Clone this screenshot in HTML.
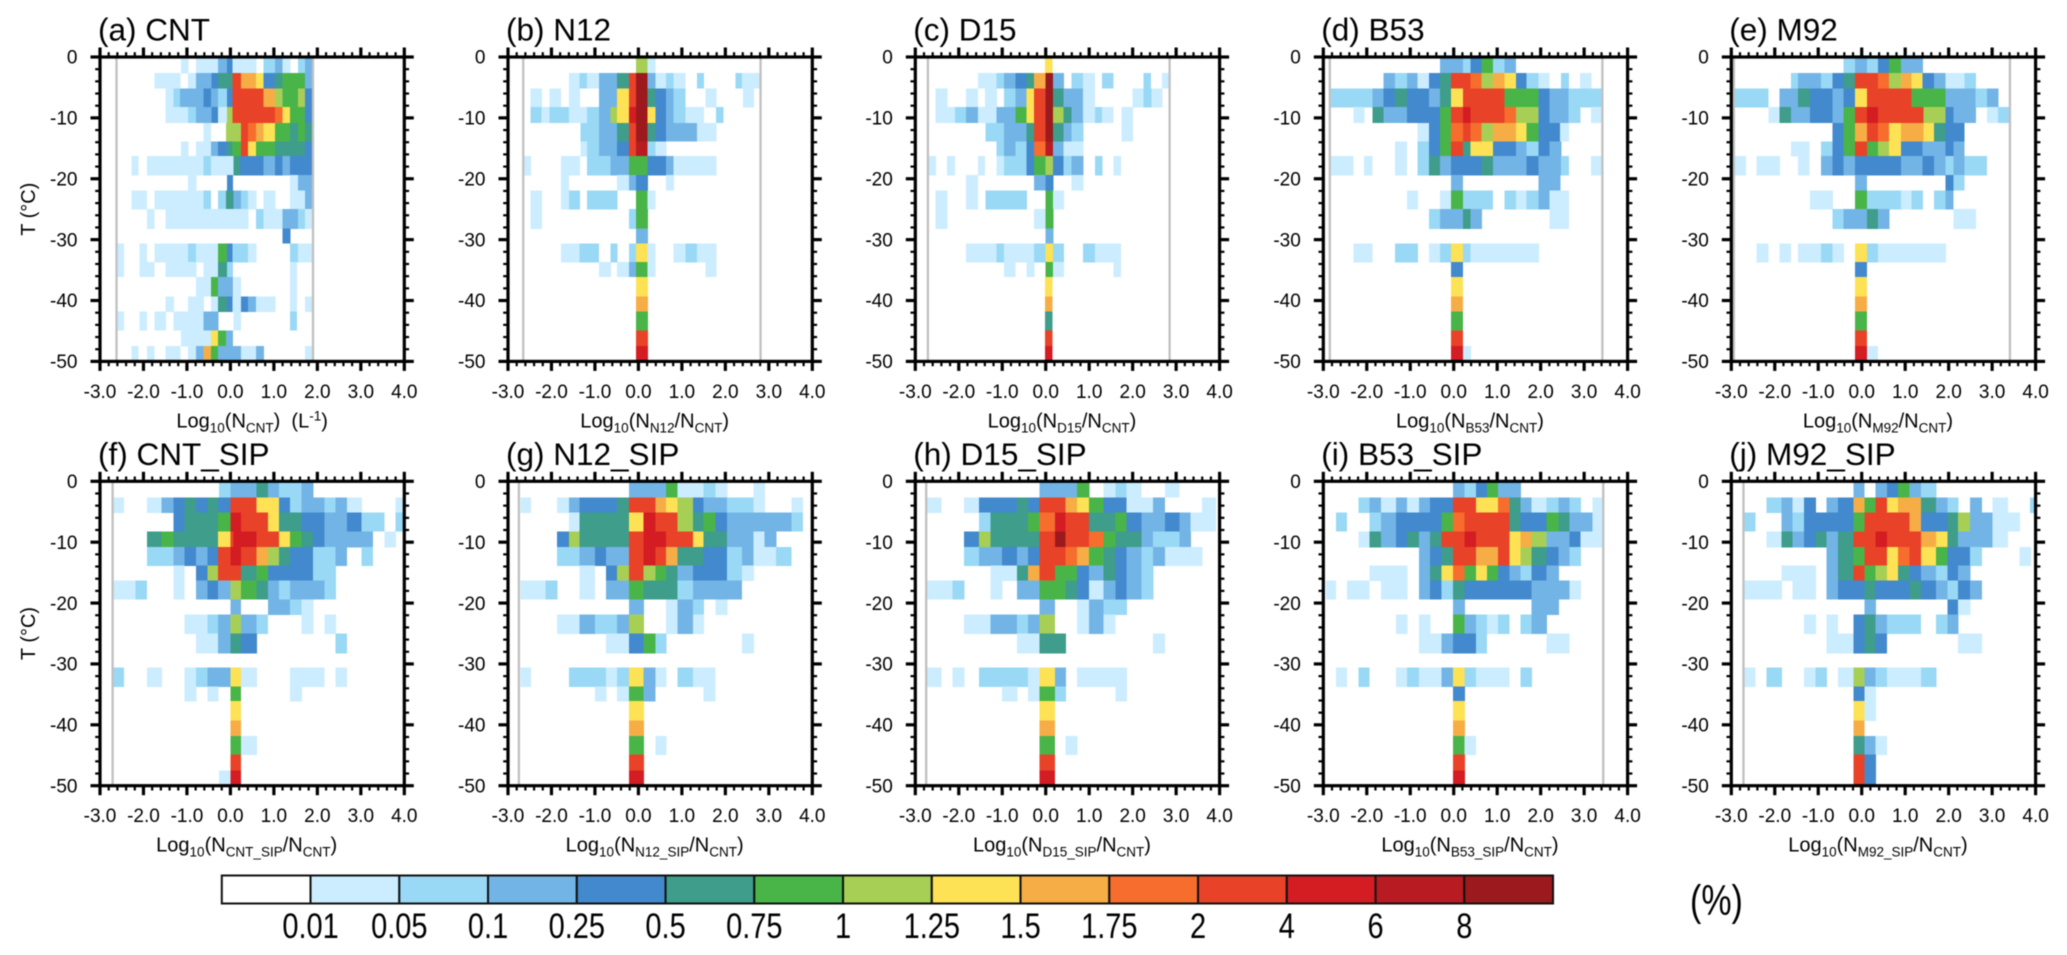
<!DOCTYPE html>
<html lang="en">
<head>
<meta charset="utf-8">
<title>Ice number concentration frequency by temperature</title>
<style>
html,body{margin:0;padding:0;background:#fff;}
body{width:2067px;height:955px;overflow:hidden;}
svg{display:block;font-family:"Liberation Sans",Arial,sans-serif;fill:#000;filter:blur(.45px);}
</style>
</head>
<body>
<svg id="chart" width="2067" height="955" viewBox="0 0 2067 955" xmlns="http://www.w3.org/2000/svg">
<rect width="2067" height="955" fill="#fff"/>
</svg>
<script>
// Colour bins
const levelBounds = [0.01,0.05,0.1,0.25,0.5,0.75,1,1.25,1.5,1.75,2,4,6,8];
const levelLabels = ['0.01','0.05','0.1','0.25','0.5','0.75','1','1.25','1.5','1.75','2','4','6','8'];
const levelColors = ['#ffffff','#ccedff','#99d9f6','#73b4e6','#4289ce','#3f9d8b','#49b548','#a7cf55','#fde255','#f6ad45','#f76d2d','#e84328','#d41d23','#b81b22','#9c1a1d'];

// Axes
const xTicks = [-3,-2,-1,0,1,2,3,4];
const xTickLabels = ['-3.0','-2.0','-1.0','0.0','1.0','2.0','3.0','4.0'];
const yTicks = [0,-10,-20,-30,-40,-50];
const yTickLabels = ['0','-10','-20','-30','-40','-50'];
// Temperature bin edges (degrees C below zero)
const tempEdges = [0,2.63,5.15,8.22,10.8,13.87,16.3,19.4,21.9,25,28.2,30.6,33.7,36.1,39.3,41.8,44.9,47.5,50];

const panelTitles = ['(a) CNT','(b) N12','(c) D15','(d) B53','(e) M92','(f) CNT_SIP','(g) N12_SIP','(h) D15_SIP','(i) B53_SIP','(j) M92_SIP'];
const panelSubs = ['CNT','N12','D15','B53','M92','CNT_SIP','N12_SIP','D15_SIP','B53_SIP','M92_SIP'];
// Min / max of each distribution (log10 units), null = not visible
const rangeMin = [-2.62,-2.65,-2.71,-2.85,-2.94,-2.71,-2.75,-2.75,null,-2.72];
const rangeMax = [1.9,2.81,2.85,3.42,3.41,null,null,null,3.44,null];

// Each row: [edge, percent, edge, percent, ..., edge] in log10 units, top row = warmest bin
const panelA = [
[-1.14,.03,-.97,0,-.79,.03,-.28,.15,-.08,.3,.05,.03,.59,0,.76,.07,1.03,.15,1.2,.03,1.37,0,1.55,.07,1.72,.15,1.9],
[-1.75,.03,-1.16,0,-.97,.03,-.79,.15,-.43,.3,-.28,.6,.05,3,.24,1.6,.59,1.4,.76,.3,1.03,.6,1.2,.9,1.72,.15,1.9],
[-1.49,.03,-1.31,.07,-1.16,.15,-.62,.3,-.45,.15,-.28,.07,-.08,.3,.05,3,.76,1.6,1.03,1.1,1.2,.9,1.55,1.1,1.72,.3,1.9],
[-1.49,.03,-.97,.07,-.79,.15,-.43,.3,-.28,.03,-.08,1.1,.05,3,1.03,1.9,1.2,1.4,1.37,.9,1.72,.3,1.9],
[-.62,.03,-.45,0,-.1,1.1,.24,3,.41,1.9,.59,1.6,.76,1.4,1.03,.9,1.37,.6,1.55,.9,1.72,.6,1.9],
[-1.14,.03,-.97,0,-.79,.03,-.45,.15,-.28,.3,-.08,.6,.05,.9,.24,3,.41,1.4,.59,.9,1.03,.6,1.72,.3,1.9],
[-2.27,.03,-2.12,0,-1.92,.03,-.62,.07,-.45,.03,.07,.6,.22,.3,.76,.15,1.03,.3,1.2,.15,1.37,.3,1.9],
[-.97,.03,-.79,0,-.08,.3,.05,0,1.37,.03,1.55,.15,1.9],
[-2.27,.03,-1.92,0,-1.75,.03,-.62,.07,-.45,0,-.28,.07,-.1,.6,.07,.15,.24,.07,.41,.03,.59,0,.76,.03,1.03,0,1.37,.03,1.72,.15,1.9],
[-1.92,.03,-1.75,0,-1.49,.03,.41,0,.59,.07,.76,.03,1.2,.15,1.55,.07,1.72,.03,1.9],
[1.2,.3,1.37],
[-2.62,.03,-2.46,0,-2.09,.03,-1.92,0,-1.75,.03,-.97,.07,-.79,.03,-.28,.9,-.08,.3,.05,.07,.41,.03,.59,0,1.37,.07,1.55,.03,1.9],
[-2.62,.03,-2.46,0,-2.09,.03,-1.75,0,-1.49,.03,-.79,0,-.62,.03,-.28,.6,-.08,.07,.05,0,1.37,.03,1.52],
[-.79,.03,-.45,.9,-.28,.15,.05,0,.07,.03,.24,0,1.37,.03,1.52],
[-1.49,.03,-1.31,0,-.97,.03,-.62,0,-.45,.03,-.28,.6,-.08,.3,.05,.03,.24,.3,.41,.15,.59,.03,1.03,0,1.37,.03,1.52,0,1.72,.03,1.9],
[-2.62,.03,-2.46,0,-2.09,.03,-1.92,0,-1.75,.03,-1.49,0,-1.31,.03,-.62,.15,-.28,0,.07,.03,.24,0,1.37,.07,1.52],
[-1.14,.03,-.45,1.4,-.28,.9,-.1,.15,.05],
[-2.27,.03,-2.12,0,-1.92,.03,-1.75,0,-1.49,.03,-1.16,0,-.97,.03,-.79,.15,-.62,1.6,-.45,.9,-.28,.15,.24,.03,.59,.15,.76,0,1.72,.03,1.9]
];
const panelB = [
[-.05,1.1,.21,.03,.39],
[-1.6,.03,-1.35,.07,-1.18,.03,-.91,.15,-.49,.6,-.22,3,-.05,9,.21,.15,.39,.03,.64,.07,.81,.03,1.08,0,1.35,.07,1.5,0,2.23,.07,2.38,.03,2.81],
[-2.48,.03,-2.23,0,-2.04,.03,-1.79,0,-1.6,.03,-1.35,0,-.91,.15,-.49,1.4,-.22,3,-.05,9,.21,.6,.39,.3,.64,.15,.81,.07,1.08,0,1.54,.03,1.79,0,2.41,.03,2.65],
[-2.48,.07,-2.23,.03,-2.04,.07,-1.6,.03,-1.18,.07,-.91,.15,-.64,1.1,-.49,1.4,-.22,5,-.05,9,.21,1.4,.39,.3,.64,.15,.81,.07,1.08,.03,1.5,0,1.79,.07,1.95],
[-1.33,.07,-.91,.15,-.49,.6,-.22,3,-.05,9,.21,.6,.39,.3,.64,.15,1.35,.03,1.79],
[-1.33,.03,-1.18,.07,-.91,.15,-.49,.3,-.22,3,-.05,7,.21,.07,.39,.03,.64],
[-2.64,.03,-2.48,0,-1.78,.03,-1.35,0,-1.18,.07,-.64,.15,-.22,.9,.21,.3,.64,.15,.81,.03,1.79],
[-1.78,.03,-1.6,0,-.49,.03,-.22,.15,-.05,.3,.21,0,.64,.03,.81],
[-2.48,.03,-2.23,0,-1.78,.03,-1.6,.07,-1.35,0,-1.18,.07,-.49,0,-.05,.9,.21,.03,.39],
[-2.48,.03,-2.23,0,-.22,.07,-.05,.9,.21],
[-.05,.15,.21],
[-1.78,.03,-1.35,.07,-.91,0,-.64,.07,-.49,0,-.22,.07,-.05,1.4,.21,.03,.39,0,.81,.03,1.08,.07,1.35,.03,1.79],
[-.91,.03,-.64,0,-.49,.03,-.22,.15,-.05,.9,.21,.03,.39,0,1.54,.03,1.79],
[-.05,1.4,.21],
[-.05,1.6,.21],
[-.05,.9,.21],
[-.05,3,.21],
[-.05,5,.21]
];
const panelC = [
[-.02,1.4,.15],
[-1.56,.03,-1.13,.07,-.96,.15,-.7,.3,-.44,.6,-.27,1.6,0,9,.17,.15,.41,0,.59,.07,.86,.03,1.13,0,1.3,.07,1.55,0,2.25,.07,2.42,0,2.68,.03,2.85],
[-2.53,.03,-2.27,0,-1.83,.03,-1.56,0,-1.4,.03,-1.13,0,-.96,.07,-.7,.15,-.44,1.4,-.27,3,0,9,.17,.6,.41,.15,.86,.03,1.13,0,2,.03,2.25,.07,2.43,.03,2.68],
[-2.53,.03,-2.09,.07,-1.83,.15,-1.56,.03,-1.13,.15,-.7,.9,-.44,1.4,-.27,3,0,9,.17,1.1,.41,.6,.59,.15,.86,.03,1.13,.07,1.3,.03,1.55,0,1.74,.03,2],
[-1.39,.07,-.96,.15,-.44,.6,-.27,3,0,9,.17,.6,.41,.15,.59,.07,.86,0,1.74,.03,2],
[-1.13,.07,-.96,.15,-.7,.07,-.44,.3,-.27,1.9,0,7,.17,.15,.41,.03,.86],
[-2.69,.03,-2.53,0,-2.27,.03,-2.09,0,-1.56,.03,-1.4,0,-1.13,.03,-.96,.07,-.44,.3,-.27,.9,0,1.1,.17,.3,.41,.07,.59,.15,.86,0,1.13,.07,1.3,0,1.56,.03,1.73],
[-1.83,.03,-1.56,0,-.27,.15,0,.3,.17,0,.59,.03,.86],
[-2.53,.03,-2.27,0,-1.83,.03,-1.56,0,-1.39,.07,-.44,0,0,.9,.17,.03,.41],
[-2.53,.03,-2.27,0,-.27,.03,0,.9,.17],
[0,.15,.17],
[-1.83,.03,-1.13,.07,-.96,.03,-.27,.07,0,1.4,.17,.07,.41,0,.86,.07,1.13,.03,1.73],
[-.96,.03,-.7,0,-.44,.03,-.27,0,0,.9,.17,.03,.41,0,1.56,.03,1.73],
[-.02,1.4,.15],
[-.02,1.6,.15],
[-.02,.6,.15],
[-.02,3,.15],
[-.02,5,.15]
];
const panelD = [
[-.31,.15,.21,.07,.39,.3,.64,.9,.9,.07,1.17,.15,1.43],
[-1.62,.15,-1.35,.07,-1.08,.15,-.83,.03,-.57,.3,-.31,.6,-.06,3,.39,1.9,.64,1.1,.9,1.6,1.17,1.4,1.43,.3,1.68,.07,1.95,.03,2.2,0,2.47,.07,2.64,0,2.91,.03,3.16],
[-2.82,.07,-1.87,.15,-1.62,.3,-1.35,.6,-1.08,.3,-.57,.15,-.31,.6,-.06,1.4,.21,3,1.17,.9,1.95,.3,2.2,.15,2.64,.07,3.42],
[-2.31,.03,-2.06,0,-1.87,.6,-1.62,.15,-1.08,.3,-.31,.9,-.06,3,.21,5,.39,3,1.17,1.9,1.43,1.1,1.95,.3,2.2,.15,2.64,.07,2.91,0,3.16,.03,3.42],
[-.83,.03,-.57,.3,-.31,.9,-.06,1.9,.21,3,.39,1.9,.64,1.1,.9,1.6,1.43,1.4,1.68,.9,1.95,.3,2.45,.03,2.64],
[-1.35,.03,-1.08,0,-.83,.07,-.57,.3,-.31,.9,-.06,3,.21,.6,.39,1.4,.9,.3,1.43,.15,1.68,.07,1.95,.3,2.2,.15,2.47],
[-2.82,.03,-2.31,0,-2.06,.03,-1.87,0,-1.35,.03,-1.08,0,-.83,.07,-.57,.6,-.31,.15,-.06,.3,.64,.6,.9,.15,1.68,.3,1.95,.15,2.47,.07,2.64,0,3.16,.03,3.42],
[-.06,.15,.21,0,1.95,.15,2.45],
[-1.08,.03,-.83,0,-.31,.03,-.06,.9,.21,.07,.9,0,1.17,.07,1.43,.03,1.68,.07,1.95,.15,2.2,.03,2.64],
[-.57,.07,-.31,.15,.21,.6,.39,.15,.64,0,2.2,.03,2.64],
[],
[-2.31,.03,-1.87,0,-1.35,.07,-.83,0,-.57,.03,-.31,.07,-.06,1.4,.21,.07,.39,.03,1.95],
[-.06,.3,.21],
[-.06,1.4,.21],
[-.06,1.6,.21],
[-.06,.9,.21],
[-.06,3,.21],
[-.06,5,.21,.03,.39]
];
const panelE = [
[-.42,.07,-.15,.15,.12,.07,.37,.3,.63,.9,.9,.15,1.4],
[-1.63,.07,-1.46,.15,-.94,.07,-.67,.3,-.42,.6,-.15,3,.37,1.9,.63,1.1,.9,1.6,1.15,1.4,1.4,.3,1.66,.15,1.93,.03,2.36,.07,2.62],
[-2.91,.07,-2.15,0,-1.89,.15,-1.46,.6,-1.19,.3,-.67,.15,-.42,.3,-.15,1.4,.12,3,1.15,.9,1.93,.15,2.62,.07,2.88,.15,3.14],
[-2.15,.03,-1.89,.6,-1.63,.15,-1.19,.3,-.67,.15,-.42,.9,-.15,3,.12,5,.37,3,1.42,1.1,1.93,.3,2.11,.15,2.62,0,2.88,.03,3.14,.07,3.4],
[-.67,.3,-.42,.9,-.15,1.6,.12,3,.37,1.9,.63,1.4,.9,1.6,1.42,1.4,1.66,.6,1.93,.3,2.36],
[-1.63,.03,-1.21,0,-.94,.07,-.67,.3,-.42,.9,-.15,3,.12,.9,.37,1.1,.63,1.4,.9,.3,1.4,.15,1.93,.3,2.11,.15,2.36],
[-2.94,.03,-2.67,0,-2.42,.03,-1.89,0,-1.46,.03,-1.21,0,-.94,.15,-.67,.3,-.42,.15,-.15,.3,.9,.15,1.4,.3,1.66,.15,1.93,.07,2.11,.15,2.36,.07,2.88],
[-.15,.15,.12,0,1.93,.3,2.11,.07,2.36],
[-1.19,.03,-.67,0,-.15,.9,.12,.07,.9,.03,1.15,.07,1.4,0,1.66,.07,1.93,.15,2.11],
[-.67,.07,-.42,.15,.12,.6,.37,.15,.63,0,2.11,.03,2.62],
[],
[-2.42,.03,-2.15,0,-1.89,.03,-1.63,0,-1.46,.03,-.94,.07,-.67,.03,-.42,0,-.15,1.4,.12,.07,.37,.03,1.93],
[-.15,.3,.12],
[-.15,1.4,.12],
[-.15,1.6,.12],
[-.15,.9,.12],
[-.15,3,.12],
[-.15,5,.12,.03,.37]
];
const panelF = [
[-.26,.07,0,.15,.6,.6,.86,.15,1.12,.07,1.64,.15,1.9],
[-2.69,.03,-2.45,0,-1.92,.03,-1.58,.15,-1.31,.3,-1.06,.6,-.79,.3,-.53,.6,-.28,.3,0,3,.6,1.4,1.12,.3,1.37,.07,1.64,.15,2.16,.07,2.42,.15,2.68,.03,3.02,0,3.8,.03,3.97],
[-1.31,.3,-1.06,.6,-.28,.9,0,5,.24,3,.86,1.4,1.12,.6,1.64,.3,2.16,.15,2.68,.3,3.02,.07,3.54,0,3.8,.07,3.97],
[-1.92,.6,-1.58,.9,-1.31,.6,-.28,1.4,0,3,.07,5,.6,3,1.12,1.4,1.37,.9,1.64,.6,1.9,.3,2.16,.15,3.27,0,3.54,.03,3.8],
[-1.92,.07,-1.31,.15,-1.06,.3,-.79,.15,-.53,.3,-.28,3,0,5,.24,3,.6,1.6,.86,1.1,1.12,.6,1.37,.3,1.9,.07,2.42,.15,2.68,0,3.02,.07,3.27],
[-1.31,.03,-1.06,0,-.79,.3,-.53,1.1,-.28,3,.24,.6,.6,.9,.86,.3,1.9,.07,2.42],
[-2.69,.03,-2.18,.07,-1.92,0,-1.31,.03,-1.06,0,-.79,.15,-.53,.3,-.28,.15,0,1.1,.24,.9,.6,.6,.86,.15,1.12,.07,1.37,.15,2.16,.07,2.42],
[0,.15,.24,0,.86,.15,1.37,.07,1.64,.03,1.9],
[-1.06,.03,-.53,.07,-.28,.15,0,1.1,.24,.15,.6,.07,.86,0,1.64,.03,1.9,0,2.16,.03,2.42],
[-.79,.03,-.28,.15,0,.6,.24,.3,.6,0,2.42,.07,2.68],
[],
[-2.69,.07,-2.45,0,-1.92,.03,-1.58,0,-1.06,.03,-.79,.07,-.53,.15,0,1.4,.24,.03,.6,0,1.37,.03,2.16,0,2.42,.03,2.68],
[-1.06,.03,-.79,0,-.53,.03,-.28,0,0,.9,.24,0,1.37,.03,1.64],
[0,1.4,.24],
[0,1.6,.24],
[0,.9,.24,.03,.6],
[0,3,.24],
[-.26,.03,0,5,.24]
];
const panelG = [
[-.22,.15,.64,.9,.9,.03,1.5,.07,1.77,.03,2.04,0,2.65,.03,2.9],
[-2.71,.03,-2.48,0,-1.87,.03,-1.6,.15,-1.35,.3,-.49,.6,-.22,3,.39,1.6,.64,1.4,.9,1.1,1.25,.3,1.5,.15,2.04,.07,2.65,.03,2.9,0,3.52,.03,3.78],
[-1.6,.03,-1.35,.6,-.22,1.4,.12,5,.39,3,.9,1.1,1.25,.6,1.5,.9,1.77,.3,2.04,.15,3.52,.07,3.78],
[-1.87,.3,-1.6,1.1,-1.35,.6,-.22,3,.12,5,.64,3,1.25,1.4,1.5,.6,2.04,.15,2.65,.03,2.9,.15,3.17],
[-1.87,.07,-1.35,.15,-1,.3,-.74,.15,-.22,3,.12,5,.39,3,.64,1.6,.9,.6,1.5,.3,2.04,.07,2.38,.15,2.65,.03,3.17,.07,3.52],
[-1.35,.03,-1,0,-.74,.3,-.49,1.1,-.22,3,.12,1.1,.39,.9,.64,.6,.9,.15,1.25,.3,2.04,.07,2.38,.03,2.65],
[-2.71,.03,-2.14,.07,-1.87,0,-1.35,.03,-1,0,-.74,.15,-.22,.9,.12,.6,.9,.07,1.25,.15,2.38],
[-.22,.15,.12,0,.64,.03,.9,.15,1.25,.07,1.5,0,1.77,.03,2.04],
[-1.87,.03,-1.35,.15,-1,.07,-.49,.15,-.22,1.1,.12,0,.64,.03,.9,.15,1.25,.03,1.5],
[-.74,.03,-.22,.3,.12,.9,.39,.07,.64,0,2.38,.03,2.65],
[],
[-2.71,.03,-2.48,0,-1.6,.07,-.74,.03,-.49,.07,-.22,1.4,.12,.15,.39,.03,.64,0,.9,.07,1.25,.03,1.77],
[-1,.03,-.74,0,-.49,.03,-.22,.9,.12,.15,.39,0,1.5,.03,1.77],
[-.22,1.4,.12],
[-.22,1.6,.12],
[-.22,.9,.12,0,.39,.03,.64],
[-.22,3,.12],
[-.22,5,.12]
];
const panelH = [
[-.14,.15,.72,.9,1,0,1.33,.03,1.6,.07,1.86,.03,2.2,0,2.74,.03,3.07],
[-2.75,.03,-2.4,0,-1.88,.03,-1.53,.3,-.66,.6,-.41,.3,-.14,3,.46,1.6,.72,1.4,1,.9,1.33,.3,1.86,.03,2.47,.15,2.74,0,3.6,.03,3.91],
[-1.53,.07,-1.27,.6,-.41,.9,-.14,1.9,.21,5,.46,3,1,.6,1.6,.9,1.86,.3,2.2,.15,2.74,.3,3.08,.15,3.33,.03,3.91],
[-1.88,.3,-1.53,1.1,-1.27,.6,-.14,3,.21,9,.46,3,1,1.9,1.33,.9,1.6,.6,2.2,.15,2.47,.07,3.08,.15,3.33],
[-1.88,.07,-1.53,.15,-1,.3,-.66,.15,-.41,.3,-.14,3,.46,1.9,.72,1.6,1,.9,1.33,.6,1.6,.3,1.86,.15,2.2,.07,2.47,.15,2.74,.03,3.6],
[-1.27,.03,-.66,.6,-.41,1.6,-.14,3,.21,.9,.72,.3,1,.15,1.33,.6,1.6,.3,1.86,.15,2.2,.07,2.47],
[-2.75,.03,-2.15,.07,-1.88,0,-1.27,.03,-1,0,-.66,.15,-.14,.9,.46,.6,.72,.3,1,.03,1.33,.15,1.6,.3,1.86,.15,2.2,.07,2.47],
[-.14,.15,.21,0,.72,.03,1,.15,1.33,.07,1.86],
[-1.88,.03,-1.27,.15,-.66,.07,-.41,.15,-.14,1.1,.21,0,.72,.03,1,.15,1.33,.03,1.6],
[-.66,.03,-.14,.6,.46,0,2.47,.03,2.74],
[],
[-2.75,.03,-2.4,0,-2.15,.03,-1.88,0,-1.53,.07,-.41,.03,-.14,1.4,.21,.15,.46,0,.72,.03,1.86],
[-1,.03,-.66,0,-.41,.03,-.14,.9,.21,.07,.46,0,1.6,.03,1.86],
[-.14,1.4,.21],
[-.14,1.6,.21],
[-.14,.9,.21,0,.46,.03,.72],
[-.14,3,.21],
[-.14,5,.21]
];
const panelI = [
[-.02,.15,.25,.07,.51,.3,.76,.9,1.02,.15,1.54],
[-2.19,.07,-1.94,.15,-1.67,.03,-1.33,.15,-1.07,.03,-.8,.15,-.54,.3,-.02,3,.51,1.4,1.02,1.9,1.28,.6,1.54,.15,1.79,.03,2.14,.07,2.41,.15,2.66,.07,2.92,0,3.19,.03,3.44],
[-2.71,.07,-2.46,0,-1.94,.07,-1.67,.15,-1.33,.3,-.28,.9,-.02,1.9,.25,3,1.28,.6,1.54,.3,2.14,.9,2.41,.6,2.66,.15,3.19,.03,3.44],
[-2.19,.03,-1.94,.6,-1.67,.15,-1.33,.3,-1.07,.6,-.8,.15,-.54,.6,-.28,3,.25,5,.51,3,1.28,1.4,1.54,1.6,1.79,1.1,2.14,.15,2.66,.3,2.92,.03,3.44],
[-.8,.15,-.54,.3,-.28,.6,-.02,3,.51,1.6,1.02,3,1.28,1.4,1.54,1.1,1.79,.6,2.14,.3,2.41,.15,2.66,.07,2.92],
[-1.94,.03,-1.07,0,-.8,.15,-.54,.6,-.28,1.4,-.02,1.9,.25,.9,.51,1.4,.76,.9,1.02,.3,1.28,.15,1.54,.07,1.79,.3,2.14,.15,2.41],
[-2.94,.03,-2.71,0,-2.46,.03,-1.94,0,-1.67,.03,-1.07,0,-.8,.15,-.54,.3,-.28,.07,-.02,.6,.25,.3,1.79,.15,2.66,.03,2.92],
[-.02,.15,.25,0,1.79,.15,2.41],
[-1.33,.03,-1.07,0,-.8,.03,-.54,0,-.02,.9,.25,.15,.51,.07,.76,.03,1.02,.07,1.28,0,1.54,.07,1.79,.15,2.14],
[-.8,.03,-.28,.15,-.02,.3,.51,.07,.76,0,2.14,.03,2.66],
[],
[-2.71,.03,-2.46,0,-2.19,.07,-1.94,0,-1.33,.03,-1.07,.07,-.8,.03,-.28,.15,-.02,1.4,.25,.07,.51,.03,1.28,0,1.54,.07,1.79],
[-.02,.3,.25],
[-.02,1.4,.25],
[-.02,1.6,.25],
[-.02,.9,.25,.03,.51],
[-.02,3,.25],
[-.02,5,.25]
];
const panelJ = [
[-.19,.15,.06,0,.32,.15,.58,.3,.84,.9,1.1,.15,1.36,.07,1.71],
[-2.19,.07,-1.84,.15,-1.59,.03,-1.33,.3,-1.06,0,-.81,.15,-.55,.3,-.19,1.6,.06,.9,.32,3,.58,1.4,.84,1.6,1.36,.6,1.71,.15,1.97,.07,2.22,0,2.49,.15,2.76,0,3.01,.03,3.36,0,3.87,.07,3.96],
[-2.71,.07,-2.45,0,-1.84,.15,-1.59,.07,-1.33,.3,-.19,.9,.06,3,1.1,1.6,1.36,.3,1.97,.6,2.22,1.1,2.49,.15,3.01,.03,3.63],
[-2.19,.03,-1.84,.6,-1.59,.15,-1.33,.3,-1.06,.6,-.81,.15,-.55,.6,-.19,3,.32,5,.58,3,1.36,1.6,1.71,1.4,1.97,.6,2.22,.15,3.01,.03,3.36],
[-.81,.15,-.55,.6,-.19,.9,.06,3,.58,1.4,.84,1.9,1.1,3,1.36,1.4,1.71,.9,1.97,.3,2.49,.07,2.76,0,3.63,.03,3.89],
[-1.84,.03,-1.06,0,-.81,.15,-.55,.6,-.19,3,.06,.9,.32,1.1,.58,1.4,.84,.6,1.1,.3,1.36,.15,1.71,.07,1.97,.3,2.22,.15,2.49],
[-2.71,.03,-1.84,0,-1.59,.03,-1.06,0,-.81,.15,-.55,.3,.06,.6,.32,.3,1.1,.6,1.36,.3,1.71,.15,1.97,.07,2.22,.3,2.49,.15,2.76],
[.06,.15,.32,0,1.97,.3,2.22,.03,2.49],
[-1.33,.03,-1.06,0,-.81,.03,-.55,0,-.19,.3,.06,.6,.32,.15,.58,.07,1.36,0,1.71,.07,1.97,.15,2.22],
[-.81,.03,-.19,.3,.06,.6,.32,.3,.58,0,2.22,.03,2.76],
[],
[-2.71,.03,-2.45,0,-2.19,.07,-1.84,0,-1.33,.03,-1.06,.07,-.81,0,-.55,.03,-.19,1.1,.06,.15,.32,.07,.58,.03,1.36,.07,1.71],
[-.19,.3,.06,.03,.32],
[-.19,1.4,.06,.03,.32],
[-.19,1.6,.06],
[-.19,.6,.06,.15,.32,.03,.58],
[-.19,3,.06,.3,.32],
[-.19,3,.06,.3,.32]
];
const panelValues = [panelA,panelB,panelC,panelD,panelE,panelF,panelG,panelH,panelI,panelJ];

// Layout
const panelLefts = [100,508,915.3,1323.3,1731.3];
const panelTops = [57,481.3];
const plotW = 304.3;
const plotH = 304.4;
const svgNS = 'http://www.w3.org/2000/svg';
const chart = document.getElementById('chart');

function mk(tag, attrs, parent) {
  const el = document.createElementNS(svgNS, tag);
  for (const k in attrs) el.setAttribute(k, attrs[k]);
  parent.appendChild(el);
  return el;
}
function colorFor(pct) {
  let i = 0;
  while (i < levelBounds.length && pct >= levelBounds[i]) i++;
  return levelColors[i];
}
function addSpan(textEl, str, size, dy) {
  const s = mk('tspan', {'font-size': size}, textEl);
  if (dy) s.setAttribute('dy', dy);
  s.textContent = str;
}

panelValues.forEach(function (rows, p) {
  const left = panelLefts[p % 5];
  const top = panelTops[p < 5 ? 0 : 1];
  const xs = function (v) { return left + (v + 3) / 7 * plotW; };
  const ys = function (t) { return top + t / 50 * plotH; };

  const g = mk('g', {}, chart);
  
  

  const cells = mk('g', {'shape-rendering': 'crispEdges'}, g);
  
  
  rows.forEach(function (row, r) {
    for (let i = 1; i < row.length; i += 2) {
      if (row[i] < levelBounds[0]) continue;
      const x0 = xs(row[i - 1]);
      const x1 = xs(row[i + 1]);
      const rect = mk('rect', {x: x0, y: ys(tempEdges[r]), width: x1 - x0 + 0.3, height: ys(tempEdges[r + 1]) - ys(tempEdges[r]) + 0.3, fill: colorFor(row[i])}, cells);
      
      
    }
  });

  [rangeMin[p], rangeMax[p]].forEach(function (v) {
    if (v === null) return;
    const line = mk('line', {x1: xs(v), x2: xs(v), y1: top, y2: top + plotH, stroke: '#c0c0c0', 'stroke-width': 2.3}, g);
    
    
  });

  const ticks = mk('g', {stroke: '#000', 'stroke-linecap': 'butt'}, g);
  
  
  for (let k = 0; k <= 35; k++) {
    const major = k % 5 === 0;
    const len = major ? 9.5 : 4.8;
    const sw = major ? 3.2 : 2.2;
    const x = xs(-3 + k * 0.2);
    mk('line', {x1: x, x2: x, y1: top, y2: top - len, 'stroke-width': sw}, ticks);
    mk('line', {x1: x, x2: x, y1: top + plotH, y2: top + plotH + len, 'stroke-width': sw}, ticks);
  }
  for (let k = 0; k <= 25; k++) {
    const major = k % 5 === 0;
    const len = major ? 9.5 : 4.8;
    const sw = major ? 3.2 : 2.2;
    const y = ys(k * 2);
    mk('line', {x1: left, x2: left - len, y1: y, y2: y, 'stroke-width': sw}, ticks);
    mk('line', {x1: left + plotW, x2: left + plotW + len, y1: y, y2: y, 'stroke-width': sw}, ticks);
  }

  const frame = mk('rect', {x: left, y: top, width: plotW, height: plotH, fill: 'none', stroke: '#000', 'stroke-width': 3.2}, g);
  
  

  const title = mk('text', {x: left - 2, y: top - 16.3, 'font-size': 31.5}, g);
  
  
  title.textContent = panelTitles[p];

  xTicks.forEach(function (v, i) {
    const t = mk('text', {x: xs(v), y: top + plotH + 36.5, 'font-size': 19, 'text-anchor': 'middle'}, g);
    
    
    t.textContent = xTickLabels[i];
  });
  yTicks.forEach(function (v, i) {
    const t = mk('text', {x: left - 22.5, y: ys(-v) + 6.7, 'font-size': 19, 'text-anchor': 'end'}, g);
    
    
    t.textContent = yTickLabels[i];
  });

  const xt = mk('text', {x: left + plotW / 2 - (p === 0 ? 0 : 5.5), y: top + plotH + 66, 'font-size': 20, 'text-anchor': 'middle', 'xml:space': 'preserve'}, g);
  
  
  addSpan(xt, 'Log', 20);
  addSpan(xt, '10', 13.5, 5);
  addSpan(xt, '(N', 20, -5);
  addSpan(xt, panelSubs[p], 13.5, 5);
  if (p === 0) {
    addSpan(xt, ')\u00a0\u00a0(L', 20, -5);
    addSpan(xt, '-1', 13.5, -7);
    addSpan(xt, ')', 20, 7);
  } else {
    addSpan(xt, '/N', 20, -5);
    addSpan(xt, 'CNT', 13.5, 5);
    addSpan(xt, ')', 20, -5);
  }

  if (p % 5 === 0) {
    const yc = top + plotH / 2;
    const yt = mk('text', {transform: 'translate(35 ' + yc + ') rotate(-90)', 'font-size': 20, 'text-anchor': 'middle'}, g);
    
    
    yt.textContent = 'T (\u00b0C)';
  }
});

// Colour bar
const cbLeft = 221.8, cbTop = 875.5, cbW = 88.75, cbH = 28;
const cb = mk('g', {}, chart);


levelColors.forEach(function (c, i) {
  const r = mk('rect', {x: cbLeft + i * cbW, y: cbTop, width: cbW, height: cbH, fill: c, stroke: '#111', 'stroke-width': 2}, cb);
  
  
});
levelLabels.forEach(function (s, i) {
  const t = mk('text', {transform: 'translate(' + (cbLeft + (i + 1) * cbW) + ' 938) scale(1 1.22)', 'font-size': 29, 'text-anchor': 'middle'}, cb);
  
  
  t.textContent = s;
});
const unit = mk('text', {transform: 'translate(1690 915) scale(1 1.25)', 'font-size': 34}, chart);


unit.textContent = '(%)';
</script>
</body>
</html>
